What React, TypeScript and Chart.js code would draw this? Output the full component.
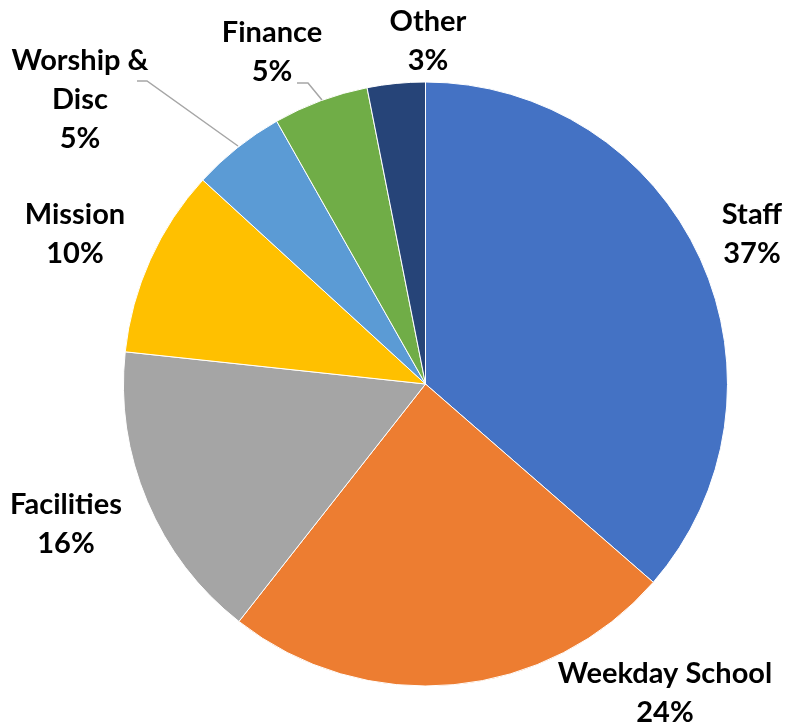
import React, { useEffect, useRef } from "react";
import { Chart, registerables } from "chart.js";

Chart.register(...registerables);

const categories = ["Staff", "Weekday School", "Facilities", "Mission", "Worship & Disc", "Finance", "Other"];
const values = [36.4, 24.2, 16.1, 10.1, 5.0, 5.1, 3.1];
const percentLabels = ["37%", "24%", "16%", "10%", "5%", "5%", "3%"];
const colors = ["#4472C4", "#ED7D31", "#A5A5A5", "#FFC000", "#5B9BD5", "#70AD47", "#264478"];

// label layout: text lines and center positions (x, first line y)
const labelLayout = [
  { lines: ["Staff"], x: 752, y: 215 },
  { lines: ["Weekday School"], x: 665, y: 674 },
  { lines: ["Facilities"], x: 66, y: 505 },
  { lines: ["Mission"], x: 75, y: 215 },
  { lines: ["Worship &", "Disc"], x: 80, y: 61 },
  { lines: ["Finance"], x: 272, y: 33 },
  { lines: ["Other"], x: 428, y: 22 },
];

const leaderLines = [
  { index: 4, pts: [[137, 81], [147, 81], [238, 146]] },
  { index: 5, pts: [[297, 83], [308, 83], [322, 100]] },
];

const labelPlugin = {
  id: "outLabels",
  afterDraw(chart: any) {
    const ctx = chart.ctx;
    ctx.save();
    ctx.strokeStyle = "#A6A6A6";
    ctx.lineWidth = 1.5;
    leaderLines.forEach((l) => {
      ctx.beginPath();
      l.pts.forEach((p, i) => (i === 0 ? ctx.moveTo(p[0], p[1]) : ctx.lineTo(p[0], p[1])));
      ctx.stroke();
    });
    ctx.fillStyle = "#000000";
    ctx.font = "bold 29px Lato";
    ctx.textAlign = "center";
    ctx.textBaseline = "middle";
    const lh = 39;
    labelLayout.forEach((lab, i) => {
      const lines = [...lab.lines, percentLabels[i]];
      lines.forEach((t, j) => ctx.fillText(t, lab.x, lab.y + j * lh));
    });
    ctx.restore();
  },
};

export default function App() {
  const ref = useRef<HTMLCanvasElement>(null);
  useEffect(() => {
    if (!ref.current) return;
    const chart = new Chart(ref.current, {
      type: "pie",
      data: {
        labels: categories,
        datasets: [
          {
            data: values,
            backgroundColor: colors,
            borderColor: "#FFFFFF",
            borderWidth: 1,
          },
        ],
      },
      options: {
        responsive: false,
        animation: false,
        layout: { padding: { left: 123, right: 59, top: 81.5, bottom: 38.5 } },
        plugins: { legend: { display: false }, tooltip: { enabled: false } },
      },
      plugins: [labelPlugin],
    });
    return () => chart.destroy();
  }, []);
  return (
    <div style={{ position: "fixed", left: 0, top: 0, width: 787, height: 725, background: "#fff" }}>
      <canvas ref={ref} width={787} height={725} />
    </div>
  );
}
